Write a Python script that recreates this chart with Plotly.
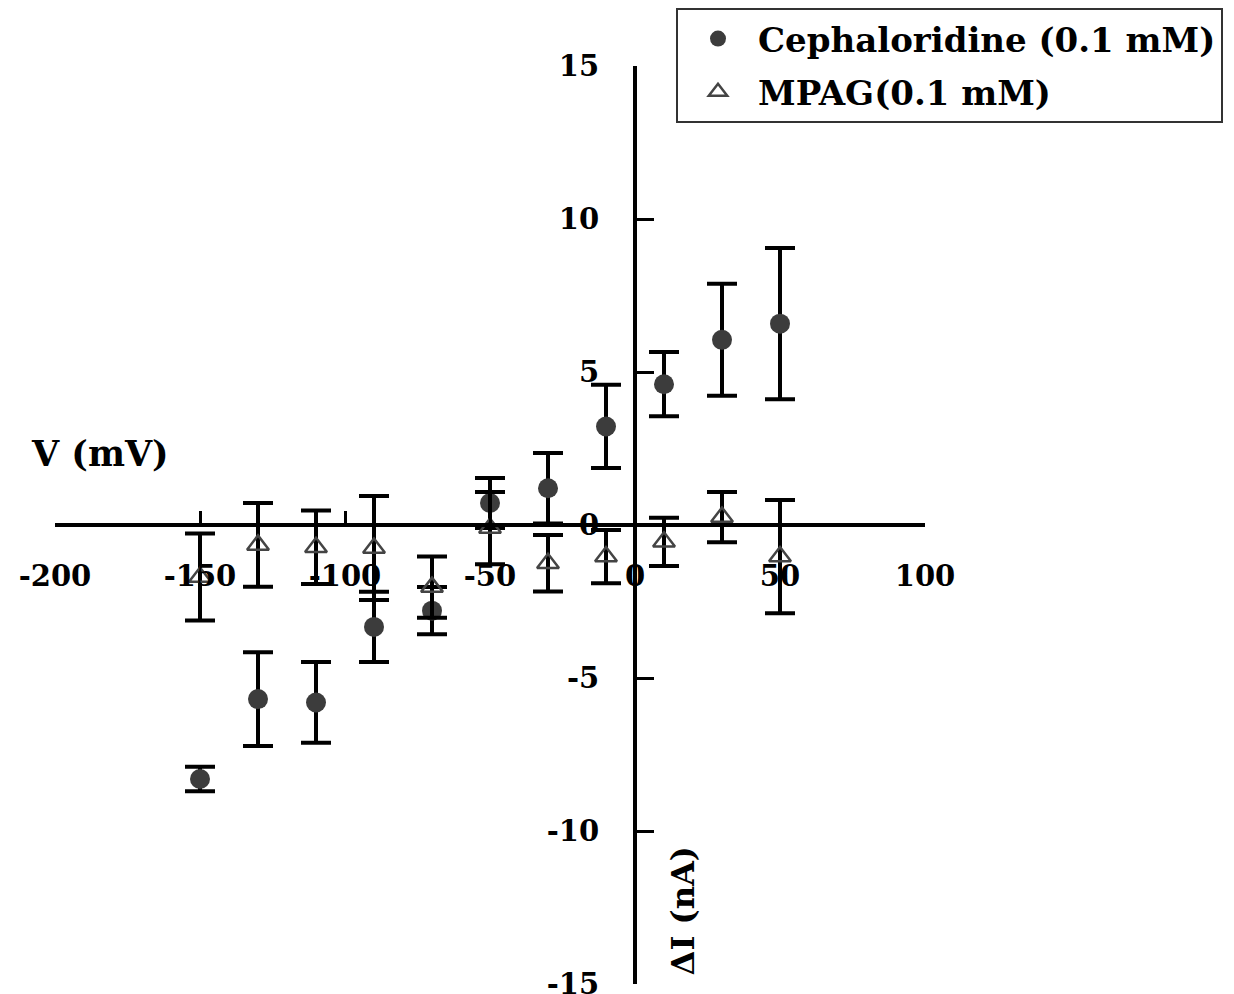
import plotly.graph_objects as go

voltage = [-150, -130, -110, -90, -70, -50, -30, -10, 10, 30, 50]
ceph_mean = [-8.3, -5.69, -5.8, -3.33, -2.8, 0.72, 1.2, 3.22, 4.6, 6.05, 6.58]
ceph_err = [0.4, 1.53, 1.32, 1.15, 0.77, 0.82, 1.15, 1.36, 1.05, 1.83, 2.47]
mpag_mean = [-1.7, -0.65, -0.73, -0.75, -2.03, -0.1, -1.25, -1.03, -0.55, 0.26, -1.03]
mpag_err = [1.42, 1.37, 1.2, 1.7, 1.0, 1.18, 0.92, 0.87, 0.79, 0.82, 1.85]

x_ticks = [-200, -150, -100, -50, 0, 50, 100]
x_tick_text = ["-200", "-150", "-100", "-50", "0", "50", "100"]
y_ticks = [-15, -10, -5, 0, 5, 10, 15]
y_tick_text = ["-15", "-10", "-5", "0", "5", "10", "15"]

FONT = "DejaVu Serif"
PAGE_OFFSET = 8  # default body margin of the html page

fig = go.Figure()
fig.add_trace(go.Scatter(
    x=voltage, y=ceph_mean, mode="markers", name="Cephaloridine (0.1 mM)",
    legendgroup="a",
    marker=dict(symbol="circle", size=20, color="#3c3c3c"),
    error_y=dict(type="data", array=ceph_err, visible=True, color="black", thickness=4, width=15),
))
fig.add_trace(go.Scatter(
    x=voltage, y=mpag_mean, mode="markers", name="MPAG(0.1 mM)",
    legendgroup="b",
    marker=dict(symbol="triangle-up-open", size=19, color="#444444", line=dict(width=2.5, color="#444444")),
    error_y=dict(type="data", array=mpag_err, visible=True, color="black", thickness=4, width=15),
))

xrng = [-200, 100]
yrng = [-15, 15]
xpos = (0 - xrng[0]) / (xrng[1] - xrng[0])
ypos = (0 - yrng[0]) / (yrng[1] - yrng[0])

fig.update_layout(
    width=1234, height=994,
    margin=dict(l=55 - PAGE_OFFSET, r=317, t=66 - PAGE_OFFSET, b=18, autoexpand=False),
    paper_bgcolor="white", plot_bgcolor="white",
    font=dict(family=FONT, size=28, color="black"),
    showlegend=True,
    legend=dict(
        xref="container", yref="container",
        x=(676 - PAGE_OFFSET) / 1234, y=1.0, xanchor="left", yanchor="top",
        bordercolor="#333333", borderwidth=2, bgcolor="white",
        font=dict(family=FONT, size=34, color="black", weight="bold"),
        tracegroupgap=6, itemwidth=70,
    ),
    xaxis=dict(
        range=xrng, anchor="free", position=ypos, side="bottom",
        showgrid=False, zeroline=False,
        showline=True, linecolor="black", linewidth=4,
        ticks="inside", ticklen=12, tickwidth=3, tickcolor="black",
        tickvals=x_ticks, ticktext=x_tick_text,
        tickfont=dict(family=FONT, size=29, color="black", weight="bold"),
        ticklabelstandoff=24, automargin=False,
    ),
    yaxis=dict(
        range=yrng, anchor="free", position=xpos, side="left",
        showgrid=False, zeroline=False,
        showline=True, linecolor="black", linewidth=4,
        ticks="inside", ticklen=17, tickwidth=3, tickcolor="black",
        tickvals=y_ticks, ticktext=y_tick_text,
        tickfont=dict(family=FONT, size=29, color="black", weight="bold"),
        ticklabelstandoff=28, automargin=False,
    ),
    annotations=[
        dict(text="<b>V (mV)</b>", x=-184.5, y=2.35, xref="x", yref="y",
             showarrow=False, font=dict(family=FONT, size=35, color="black")),
        dict(text="<b>ΔI (nA)</b>", x=16.5, y=-12.6, xref="x", yref="y",
             showarrow=False, textangle=-90, font=dict(family=FONT, size=32, color="black")),
    ],
)

fig.write_html("out.html")
